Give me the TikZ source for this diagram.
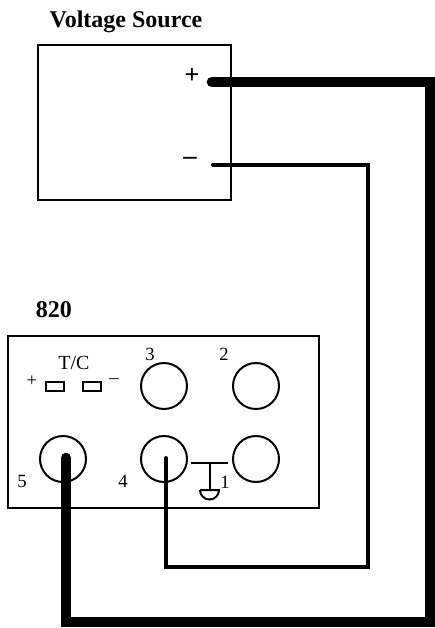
\documentclass[tikz,border=0pt]{standalone}
\usepackage{fontspec}
\setmainfont{Liberation Serif}
\tikzset{
	terminal/.style={draw,circle,line width=1.5pt,minimum size=34.5pt,inner sep=0pt},
	panelbox/.style={draw,line width=1.5pt,inner sep=0pt},
	pinbox/.style={draw,line width=1.5pt,inner sep=0pt,minimum width=13.5pt,minimum height=6.5pt},
	numlabel/.style={font=\fontsize{14}{14}\selectfont,inner sep=0pt},
	titlelabel/.style={font=\fontsize{18}{18}\selectfont\bfseries,inner sep=0pt},
	signlabel/.style={font=\fontsize{20}{20}\selectfont\bfseries,inner sep=0pt},
	heavywire/.style={line width=8pt,line cap=round},
	lightwire/.style={line width=3pt,line cap=round}
}
\begin{document}
\begin{tikzpicture}[x=.75pt,y=-.75pt]
	\useasboundingbox (0,0) rectangle (435,628);

	% la source
	\node[titlelabel] (sourcetitle) at (126,22) {Voltage Source};
	\node[panelbox,minimum width=144.75pt,minimum height=116.25pt] (source) at (134.5,122.5) {};
	\node[signlabel] (plus) at (192,76) {+};
	\node[signlabel] (minus) at (190,161) {–};

	% le panneau
	\node[titlelabel] (paneltitle) at (54,310) {820};
	\node[panelbox,minimum width=233.25pt,minimum height=129pt] (panel) at (163,421.5) {};

	\node[numlabel,font=\fontsize{15}{15}\selectfont] (tc) at (74,363) {T/C};
	\node[pinbox] (pinplus) at (54.5,386.5) {};
	\node[pinbox] (pinminus) at (91.5,386.5) {};
	\node[numlabel] (tcplus) at (32,381) {+};
	\node[numlabel] (tcminus) at (114,381) {–};

	\node[terminal] (term3) at (164,386) {};
	\node[terminal] (term2) at (256,386) {};
	\node[terminal] (term5) at (63,459) {};
	\node[terminal] (term4) at (164,459) {};
	\node[terminal] (term1) at (256,459) {};

	\node[numlabel] (num3) at (150,354) {3};
	\node[numlabel] (num2) at (224,354) {2};
	\node[numlabel] (num5) at (22,481) {5};
	\node[numlabel] (num4) at (123,481) {4};
	\node[numlabel] (num1) at (225,482) {1};

	% la masse
	\coordinate (gndleft) at (191,463);
	\coordinate (gndright) at (228,463);
	\coordinate (gndtop) at (210,463);
	\coordinate (gndbot) at (210,490);
	\draw[line width=1.5pt] (gndleft) -- (gndright);
	\draw[line width=1.5pt] (gndtop) -- (gndbot);
	\draw[line width=1.5pt] (200,490) -- (219,490) arc (0:180:9.5);

	% les fils
	\coordinate (heavyend) at (66,458);
	\coordinate (heavystart) at (212,82);
	\coordinate (heavycorner) at (430,82);
	\coordinate (heavyfoot) at (66,622);
	\draw[heavywire] (heavystart) -- (heavycorner) |- (heavyfoot) -- (heavyend);

	\coordinate (lightend) at (166,458);
	\coordinate (lightstart) at (213,164.5);
	\coordinate (lightcorner) at (368,164.5);
	\coordinate (lightfoot) at (166,566.5);
	\draw[lightwire] (lightstart) -- (lightcorner) |- (lightfoot) -- (lightend);
\end{tikzpicture}
\end{document}
